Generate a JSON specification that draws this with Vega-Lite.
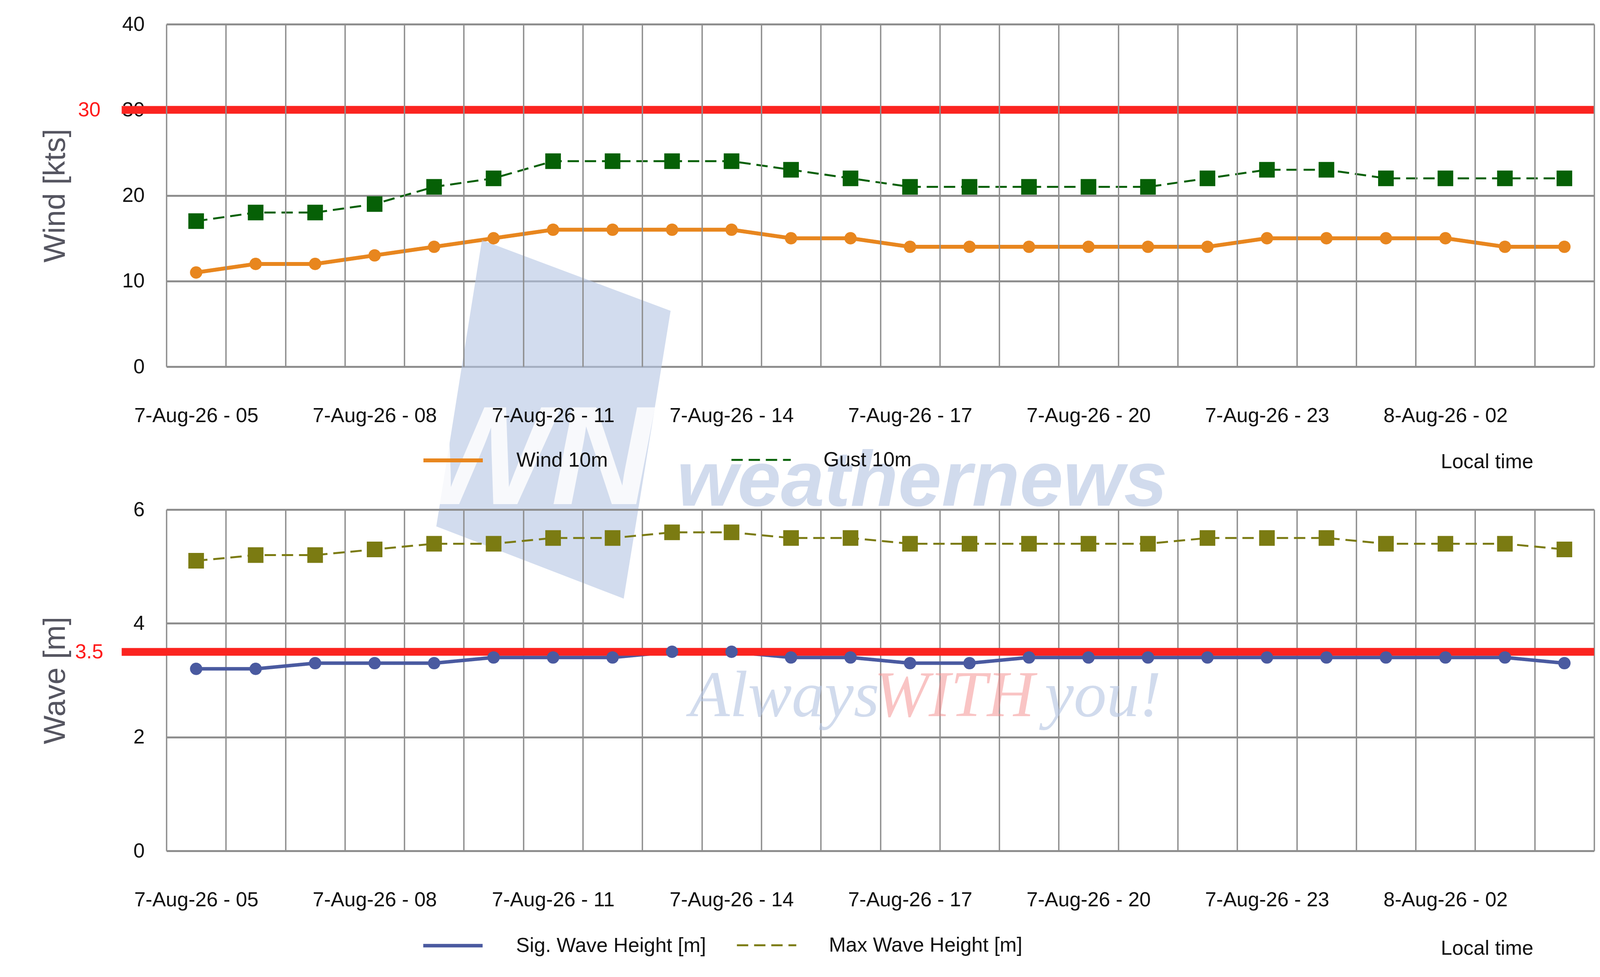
{
  "$schema": "https://vega.github.io/schema/vega-lite/v6.json",
  "padding": {"left": 103, "top": 36, "right": 15, "bottom": 0},
  "background": "white",
  "bounds": "flush",
  "spacing": 366,
  "config": {
    "font": "Liberation Sans",
    "view": {"stroke": null},
    "axis": {
      "labelFont": "Liberation Sans",
      "titleFont": "Liberation Sans",
      "labelColor": "#111111",
      "gridColor": "#8e8e8e",
      "gridOpacity": 1
    },
    "axisX": {"gridWidth": 3.5},
    "axisY": {"gridWidth": 5}
  },
  "datasets": {
    "hourly": [
      {"t": "7-Aug-26 - 05", "wind": 11, "gust": 17, "sig": 3.2, "maxw": 5.1},
      {"t": "7-Aug-26 - 06", "wind": 12, "gust": 18, "sig": 3.2, "maxw": 5.2},
      {"t": "7-Aug-26 - 07", "wind": 12, "gust": 18, "sig": 3.3, "maxw": 5.2},
      {"t": "7-Aug-26 - 08", "wind": 13, "gust": 19, "sig": 3.3, "maxw": 5.3},
      {"t": "7-Aug-26 - 09", "wind": 14, "gust": 21, "sig": 3.3, "maxw": 5.4},
      {"t": "7-Aug-26 - 10", "wind": 15, "gust": 22, "sig": 3.4, "maxw": 5.4},
      {"t": "7-Aug-26 - 11", "wind": 16, "gust": 24, "sig": 3.4, "maxw": 5.5},
      {"t": "7-Aug-26 - 12", "wind": 16, "gust": 24, "sig": 3.4, "maxw": 5.5},
      {"t": "7-Aug-26 - 13", "wind": 16, "gust": 24, "sig": 3.5, "maxw": 5.6},
      {"t": "7-Aug-26 - 14", "wind": 16, "gust": 24, "sig": 3.5, "maxw": 5.6},
      {"t": "7-Aug-26 - 15", "wind": 15, "gust": 23, "sig": 3.4, "maxw": 5.5},
      {"t": "7-Aug-26 - 16", "wind": 15, "gust": 22, "sig": 3.4, "maxw": 5.5},
      {"t": "7-Aug-26 - 17", "wind": 14, "gust": 21, "sig": 3.3, "maxw": 5.4},
      {"t": "7-Aug-26 - 18", "wind": 14, "gust": 21, "sig": 3.3, "maxw": 5.4},
      {"t": "7-Aug-26 - 19", "wind": 14, "gust": 21, "sig": 3.4, "maxw": 5.4},
      {"t": "7-Aug-26 - 20", "wind": 14, "gust": 21, "sig": 3.4, "maxw": 5.4},
      {"t": "7-Aug-26 - 21", "wind": 14, "gust": 21, "sig": 3.4, "maxw": 5.4},
      {"t": "7-Aug-26 - 22", "wind": 14, "gust": 22, "sig": 3.4, "maxw": 5.5},
      {"t": "7-Aug-26 - 23", "wind": 15, "gust": 23, "sig": 3.4, "maxw": 5.5},
      {"t": "8-Aug-26 - 00", "wind": 15, "gust": 23, "sig": 3.4, "maxw": 5.5},
      {"t": "8-Aug-26 - 01", "wind": 15, "gust": 22, "sig": 3.4, "maxw": 5.4},
      {"t": "8-Aug-26 - 02", "wind": 15, "gust": 22, "sig": 3.4, "maxw": 5.4},
      {"t": "8-Aug-26 - 03", "wind": 14, "gust": 22, "sig": 3.4, "maxw": 5.4},
      {"t": "8-Aug-26 - 04", "wind": 14, "gust": 22, "sig": 3.3, "maxw": 5.3}
    ]
  },
  "vconcat": [
    {
      "width": 3655,
      "height": 877,
      "resolve": {"axis": {"y": "independent"}},
      "layer": [
        {
          "data": {"name": "hourly"},
          "transform": [{"fold": ["wind", "gust"], "as": ["series", "v"]}],
          "mark": {"type": "line"},
          "encoding": {
            "x": {
              "field": "t",
              "type": "ordinal",
              "scale": {"type": "band", "paddingInner": 0, "paddingOuter": 0},
              "axis": {
                "zindex": 1,
                "tickBand": "extent",
                "grid": true,
                "ticks": false,
                "domain": false,
                "labelAngle": 0,
                "labelFontSize": 52,
                "labelPadding": 100,
                "labelLimit": 1000,
                "labelOverlap": false,
                "labelBound": false,
                "labelExpr": "indexof(['05','08','11','14','17','20','23','02'], slice(datum.label, -2)) >= 0 ? datum.label : ''",
                "title": "Local time",
                "titleFontSize": 52,
                "titleFontWeight": "normal",
                "titleColor": "#111111",
                "titleX": 3262,
                "titleY": 259,
                "titleAlign": "left",
                "titleBaseline": "alphabetic"
              }
            },
            "y": {
              "field": "v",
              "type": "quantitative",
              "scale": {"domain": [0, 40]},
              "axis": {"orient": "left", "values": [0, 10, 20, 30, 40], "grid": true, "ticks": false, "domain": false, "labelFontSize": 52, "labelPadding": 56, "title": "Wind [kts]", "titleFontSize": 78, "titleFontWeight": "normal", "titleColor": "#555560", "titlePadding": 131}
            },
            "color": {
              "field": "series",
              "type": "nominal",
              "scale": {"domain": ["wind", "gust"], "range": ["#e8861e", "#066006"]},
              "legend": {"orient": "none", "legendX": 653, "legendY": 1036, "direction": "horizontal", "title": null, "symbolType": "stroke", "symbolSize": 23104, "symbolStrokeWidth": 8, "labelFontSize": 52, "labelColor": "#111111", "labelOffset": 81, "columnPadding": 305, "padding": 0, "labelLimit": 2000, "labelExpr": "datum.label == 'wind' ? 'Wind 10m' : 'Gust 10m'"}
            },
            "strokeDash": {
              "field": "series",
              "type": "nominal",
              "scale": {"domain": ["wind", "gust"], "range": [[1, 0], [29, 15]]},
              "legend": {"orient": "none", "legendX": 653, "legendY": 1036, "direction": "horizontal", "title": null, "symbolType": "stroke", "symbolSize": 23104, "symbolStrokeWidth": 8, "labelFontSize": 52, "labelColor": "#111111", "labelOffset": 81, "columnPadding": 305, "padding": 0, "labelLimit": 2000, "labelExpr": "datum.label == 'wind' ? 'Wind 10m' : 'Gust 10m'"}
            },
            "strokeWidth": {
              "field": "series",
              "type": "nominal",
              "scale": {"domain": ["wind", "gust"], "range": [10, 5]},
              "legend": null
            }
          }
        },
        {
          "data": {"values": [{}]},
          "mark": {"type": "point", "shape": "M-0.396,-0.996L0.654,-0.602L0.393,1L-0.65,0.598Z", "size": 846400, "filled": true, "color": "#b4c4e2", "opacity": 0.6, "dx": -11},
          "encoding": {
            "x": {"datum": "7-Aug-26 - 11", "type": "ordinal"},
            "y": {"datum": -6.11, "type": "quantitative", "axis": null}
          }
        },
        {
          "data": {"values": [{}]},
          "mark": {"type": "text", "text": "WN", "font": "Liberation Sans", "fontSize": 360, "fontWeight": "bold", "fontStyle": "italic", "color": "#ffffff", "opacity": 0.85, "align": "center", "baseline": "alphabetic", "dx": -45},
          "encoding": {
            "x": {"datum": "7-Aug-26 - 11", "type": "ordinal"},
            "y": {"datum": -16.05, "type": "quantitative", "axis": null}
          }
        },
        {
          "data": {"values": [{}]},
          "mark": {"type": "text", "text": "weathernews", "font": "Liberation Sans", "fontSize": 200, "fontWeight": "bold", "fontStyle": "italic", "color": "#b4c4e2", "opacity": 0.6, "align": "left", "baseline": "alphabetic", "dx": 12},
          "encoding": {
            "x": {"datum": "7-Aug-26 - 13", "type": "ordinal"},
            "y": {"datum": -16.24, "type": "quantitative", "axis": null}
          }
        },
        {
          "data": {"values": [{}]},
          "mark": {"type": "rule", "color": "#fb2420", "strokeWidth": 20},
          "encoding": {
            "y": {
              "datum": 30,
              "type": "quantitative",
              "axis": {"orient": "left", "values": [30], "grid": false, "domain": false, "ticks": true, "tickSize": 115, "tickWidth": 20, "tickColor": "#fb2420", "labelColor": "#ff1a1a", "labelFontSize": 52, "labelPadding": 54, "title": null}
            }
          }
        },
        {
          "data": {"name": "hourly"},
          "mark": {"type": "point", "filled": true, "shape": "circle", "size": 1000, "color": "#e8861e", "opacity": 1},
          "encoding": {
            "x": {"field": "t", "type": "ordinal"},
            "y": {"field": "wind", "type": "quantitative", "axis": null}
          }
        },
        {
          "data": {"name": "hourly"},
          "mark": {"type": "point", "filled": true, "shape": "square", "size": 1600, "color": "#066006", "opacity": 1},
          "encoding": {
            "x": {"field": "t", "type": "ordinal"},
            "y": {"field": "gust", "type": "quantitative", "axis": null}
          }
        }
      ]
    },
    {
      "width": 3655,
      "height": 874,
      "resolve": {"axis": {"y": "independent"}},
      "layer": [
        {
          "data": {"name": "hourly"},
          "transform": [{"fold": ["sig", "maxw"], "as": ["series", "v"]}],
          "mark": {"type": "line"},
          "encoding": {
            "x": {
              "field": "t",
              "type": "ordinal",
              "scale": {"type": "band", "paddingInner": 0, "paddingOuter": 0},
              "axis": {
                "tickBand": "extent",
                "grid": true,
                "ticks": false,
                "domain": false,
                "labelAngle": 0,
                "labelFontSize": 52,
                "labelPadding": 100,
                "labelLimit": 1000,
                "labelOverlap": false,
                "labelBound": false,
                "labelExpr": "indexof(['05','08','11','14','17','20','23','02'], slice(datum.label, -2)) >= 0 ? datum.label : ''",
                "title": "Local time",
                "titleFontSize": 52,
                "titleFontWeight": "normal",
                "titleColor": "#111111",
                "titleX": 3262,
                "titleY": 265,
                "titleAlign": "left",
                "titleBaseline": "alphabetic"
              }
            },
            "y": {
              "field": "v",
              "type": "quantitative",
              "scale": {"domain": [0, 6]},
              "axis": {"orient": "left", "values": [0, 2, 4, 6], "grid": true, "ticks": false, "domain": false, "labelFontSize": 52, "labelPadding": 56, "title": "Wave [m]", "titleFontSize": 78, "titleFontWeight": "normal", "titleColor": "#555560", "titlePadding": 160}
            },
            "color": {
              "field": "series",
              "type": "nominal",
              "scale": {"domain": ["sig", "maxw"], "range": ["#4a5aa0", "#7b7b12"]},
              "legend": {"orient": "none", "legendX": 653, "legendY": 1036, "direction": "horizontal", "title": null, "symbolType": "stroke", "symbolSize": 23104, "symbolStrokeWidth": 8, "labelFontSize": 52, "labelColor": "#111111", "labelOffset": 81, "columnPadding": 68, "padding": 0, "labelLimit": 2000, "labelExpr": "datum.label == 'sig' ? 'Sig. Wave Height [m]' : 'Max Wave Height [m]'"}
            },
            "strokeDash": {
              "field": "series",
              "type": "nominal",
              "scale": {"domain": ["sig", "maxw"], "range": [[1, 0], [29, 15]]},
              "legend": {"orient": "none", "legendX": 653, "legendY": 1036, "direction": "horizontal", "title": null, "symbolType": "stroke", "symbolSize": 23104, "symbolStrokeWidth": 8, "labelFontSize": 52, "labelColor": "#111111", "labelOffset": 81, "columnPadding": 68, "padding": 0, "labelLimit": 2000, "labelExpr": "datum.label == 'sig' ? 'Sig. Wave Height [m]' : 'Max Wave Height [m]'"}
            },
            "strokeWidth": {
              "field": "series",
              "type": "nominal",
              "scale": {"domain": ["sig", "maxw"], "range": [9, 5]},
              "legend": null
            }
          }
        },
        {
          "data": {"values": [{}]},
          "mark": {"type": "text", "text": "Always", "font": "Liberation Serif", "fontSize": 168, "fontStyle": "italic", "color": "#b4c4e2", "opacity": 0.6, "align": "left", "baseline": "alphabetic", "dx": 45},
          "encoding": {
            "x": {"datum": "7-Aug-26 - 13", "type": "ordinal"},
            "y": {"datum": 2.37, "type": "quantitative", "axis": null}
          }
        },
        {
          "data": {"values": [{}]},
          "mark": {"type": "text", "text": "WITH", "font": "Liberation Serif", "fontSize": 168, "fontStyle": "italic", "color": "#f58a8a", "opacity": 0.5, "align": "left", "baseline": "alphabetic", "dx": -92},
          "encoding": {
            "x": {"datum": "7-Aug-26 - 17", "type": "ordinal"},
            "y": {"datum": 2.37, "type": "quantitative", "axis": null}
          }
        },
        {
          "data": {"values": [{}]},
          "mark": {"type": "text", "text": "you!", "font": "Liberation Serif", "fontSize": 168, "fontStyle": "italic", "color": "#b4c4e2", "opacity": 0.6, "align": "left", "baseline": "alphabetic", "dx": 40},
          "encoding": {
            "x": {"datum": "7-Aug-26 - 19", "type": "ordinal"},
            "y": {"datum": 2.37, "type": "quantitative", "axis": null}
          }
        },
        {
          "data": {"values": [{}]},
          "mark": {"type": "rule", "color": "#fb2420", "strokeWidth": 20},
          "encoding": {
            "y": {
              "datum": 3.5,
              "type": "quantitative",
              "axis": {"orient": "left", "values": [3.5], "format": ".1f", "grid": false, "domain": false, "ticks": true, "tickSize": 115, "tickWidth": 20, "tickColor": "#fb2420", "labelColor": "#ff1a1a", "labelFontSize": 52, "labelPadding": 47, "title": null}
            }
          }
        },
        {
          "data": {"name": "hourly"},
          "mark": {"type": "point", "filled": true, "shape": "circle", "size": 1000, "color": "#4a5aa0", "opacity": 1},
          "encoding": {
            "x": {"field": "t", "type": "ordinal"},
            "y": {"field": "sig", "type": "quantitative", "axis": null}
          }
        },
        {
          "data": {"name": "hourly"},
          "mark": {"type": "point", "filled": true, "shape": "square", "size": 1600, "color": "#7b7b12", "opacity": 1},
          "encoding": {
            "x": {"field": "t", "type": "ordinal"},
            "y": {"field": "maxw", "type": "quantitative", "axis": null}
          }
        }
      ]
    }
  ],
  "resolve": {"scale": {"color": "independent", "strokeDash": "independent", "strokeWidth": "independent", "x": "independent", "y": "independent"}}
}
